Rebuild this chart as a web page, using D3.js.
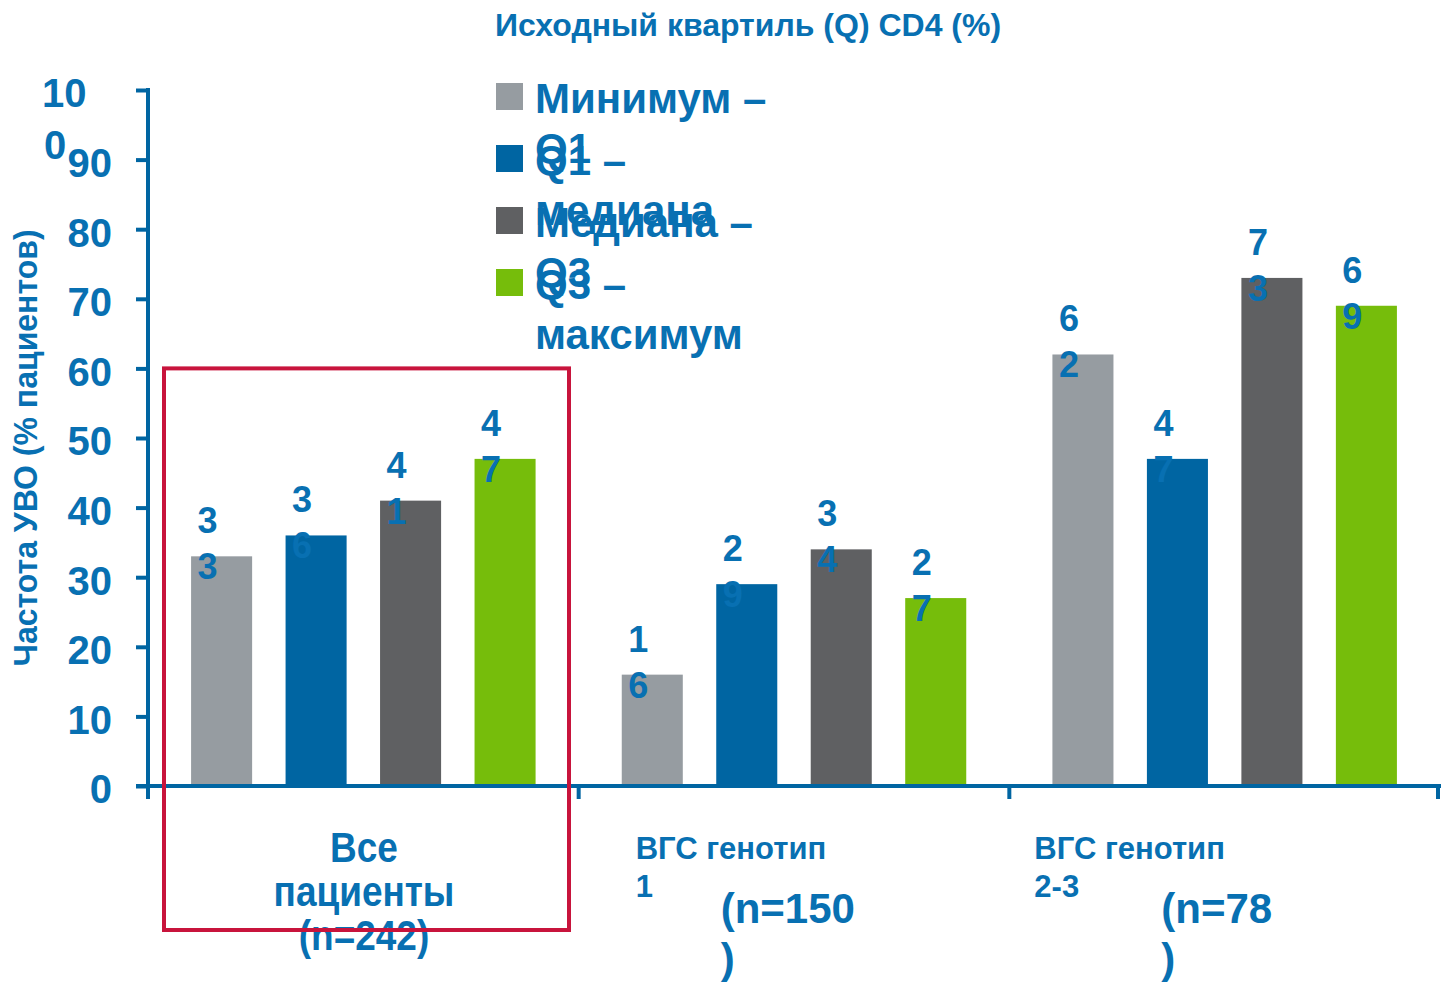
<!DOCTYPE html>
<html>
<head>
<meta charset="utf-8">
<script src="https://cdn.jsdelivr.net/npm/d3@7"></script>
<style>
  body { margin: 0; background: #fff; }
  text { font-family: "Liberation Sans", Arial, sans-serif; font-weight: bold; fill: #0870b2; }
</style>
</head>
<body>
<script>
// chart data
var groups = ["all", "g1", "g23"];
var seriesNames = ["Минимум – Q1", "Q1 – медиана", "Медиана – Q3", "Q3 – максимум"];
var minQ1 = [33, 16, 62];
var q1Median = [36, 29, 47];
var medianQ3 = [41, 34, 73];
var q3Max = [47, 27, 69];
var yTicks = [0, 10, 20, 30, 40, 50, 60, 70, 80, 90, 100];
var legendLines = [["Минимум –", "Q1"], ["Q1 –", "медиана"], ["Медиана –", "Q3"], ["Q3 –", "максимум"]];
var groupSmall = [[], ["ВГС генотип", "1"], ["ВГС генотип", "2-3"]];
var groupBig = [["Все", "пациенты", "(n=242)"], ["(n=150", ")"], ["(n=78", ")"]];
var title = "Исходный квартиль (Q) CD4 (%)";
var yTitle = "Частота УВО (% пациентов)";

var colors = ["#969ca1", "#0065a2", "#5f6062", "#76bd0b"];
var blue = "#0065a2";
var width = 1441, height = 988;

var allSeries = [minQ1, q1Median, medianQ3, q3Max];
var data = groups.map(function(g, i) {
  return { group: g, values: seriesNames.map(function(s, j) { return { name: s, idx: j, value: allSeries[j][i] }; }) };
});

var svg = d3.select("body").append("svg")
  .attr("width", width)
  .attr("height", height);

var x0 = d3.scaleBand().domain(groups).range([148, 1440]).padding(0);
var x1 = d3.scaleBand().domain(seriesNames).range([0, x0.bandwidth()])
  .paddingInner(0.354).paddingOuter(0.456);
var y = d3.scaleLinear().domain([0, 100]).range([786, 90]);

// title
svg.append("text")
  .attr("x", 748).attr("y", 36)
  .attr("text-anchor", "middle")
  .style("font-size", "32px")
  .text(title);

// y axis title
svg.append("text")
  .attr("transform", "translate(37,448) rotate(-90) scale(0.97,1)")
  .attr("text-anchor", "middle")
  .style("font-size", "33px")
  .text(yTitle);

// bars
var gGroups = svg.selectAll("g.grp").data(data).enter().append("g")
  .attr("class", "grp")
  .attr("transform", function(d) { return "translate(" + x0(d.group) + ",0)"; });

gGroups.selectAll("rect").data(function(d) { return d.values; }).enter().append("rect")
  .attr("x", function(d) { return x1(d.name); })
  .attr("width", x1.bandwidth())
  .attr("y", function(d) { return y(d.value); })
  .attr("height", function(d) { return y(0) - y(d.value); })
  .attr("fill", function(d) { return colors[d.idx]; });

// value labels (wrapped, one digit per line)
gGroups.selectAll("text.val").data(function(d) { return d.values; }).enter().append("text")
  .attr("class", "val")
  .attr("text-anchor", "middle")
  .style("font-size", "36px")
  .each(function(d) {
    var cx = x1(d.name) + x1.bandwidth() / 2 - 14;
    var digits = String(d.value).split("");
    var t = d3.select(this);
    digits.forEach(function(ch, k) {
      t.append("tspan").attr("x", cx).attr("y", y(d.value) - 23 + k * 46).text(ch);
    });
  });

// y axis
var yAxis = d3.axisLeft(y).tickValues(yTicks).tickSize(12).tickPadding(6);
var gy = svg.append("g").attr("transform", "translate(148,0)").call(yAxis);
gy.select(".domain").remove();
gy.append("line").attr("x1", 0).attr("x2", 0).attr("y1", y(100) - 2).attr("y2", y(0) + 4)
  .attr("stroke", blue).attr("stroke-width", 4);
gy.selectAll(".tick line").attr("stroke", blue).attr("stroke-width", 4);
gy.selectAll(".tick text")
  .attr("fill", "#0870b2")
  .style("font-size", "40px")
  .style("font-family", "'Liberation Sans', Arial, sans-serif")
  .attr("x", -36)
  .attr("dy", "0.42em");
gy.selectAll(".tick").filter(function(d) { return d === 100; }).select("text")
  .attr("text-anchor", "start")
  .attr("x", -106)
  .attr("dy", null)
  .text(null)
  .each(function() {
    var t = d3.select(this);
    t.append("tspan").attr("x", -106).attr("dy", "0.42em").text("10");
    t.append("tspan").attr("x", -104).attr("dy", "1.3em").text("0");
  });

// x axis
svg.append("line").attr("x1", 136).attr("x2", 1441).attr("y1", y(0)).attr("y2", y(0))
  .attr("stroke", blue).attr("stroke-width", 4);
var bounds = groups.map(function(g) { return x0(g); }).concat([x0.range()[1]]);
svg.selectAll("line.gtick").data(bounds).enter().append("line")
  .attr("class", "gtick")
  .attr("x1", function(d) { return Math.min(d, 1438); })
  .attr("x2", function(d) { return Math.min(d, 1438); })
  .attr("y1", y(0)).attr("y2", y(0) + 13)
  .attr("stroke", blue).attr("stroke-width", 4);

// category labels
var gx = svg.append("g");
// group 1: centered, three lines, narrowed
var cx1 = x0("all") + 216;
gx.append("text")
  .attr("transform", "translate(" + cx1 + ",0) scale(0.88,1)")
  .attr("text-anchor", "middle")
  .style("font-size", "42px")
  .selectAll("tspan").data(groupBig[0]).enter().append("tspan")
  .attr("x", 0)
  .attr("y", function(d, i) { return 862 + i * 44; })
  .text(function(d) { return d; });

var smallOff = [0, 57, 25];
var bigOff = [0, 142, 152];
[1, 2].forEach(function(i) {
  var gx0 = x0(groups[i]);
  gx.append("text")
    .style("font-size", "31px")
    .selectAll("tspan").data(groupSmall[i]).enter().append("tspan")
    .attr("x", gx0 + smallOff[i])
    .attr("y", function(d, k) { return 859 + k * 38; })
    .text(function(d) { return d; });
  gx.append("text")
    .style("font-size", "42px")
    .selectAll("tspan").data(groupBig[i]).enter().append("tspan")
    .attr("x", gx0 + bigOff[i])
    .attr("y", function(d, k) { return 923 + k * 50; })
    .text(function(d) { return d; });
});

// highlight box around first group
svg.append("rect")
  .attr("x", x0("all") + 16)
  .attr("y", y(60))
  .attr("width", 405)
  .attr("height", 930 - y(60))
  .attr("fill", "none")
  .attr("stroke", "#c8143c")
  .attr("stroke-width", 4);

// legend
var legend = svg.append("g").attr("transform", "translate(496,83)");
var items = legend.selectAll("g").data(seriesNames).enter().append("g")
  .attr("transform", function(d, i) { return "translate(0," + i * 62 + ")"; });
items.append("rect").attr("width", 27).attr("height", 27)
  .attr("fill", function(d, i) { return colors[i]; });
items.append("text")
  .style("font-size", "42px")
  .selectAll("tspan").data(function(d, i) { return legendLines[i]; }).enter().append("tspan")
  .attr("x", 39)
  .attr("y", function(d, k) { return 30 + k * 50; })
  .text(function(d) { return d; });
</script>
</body>
</html>
